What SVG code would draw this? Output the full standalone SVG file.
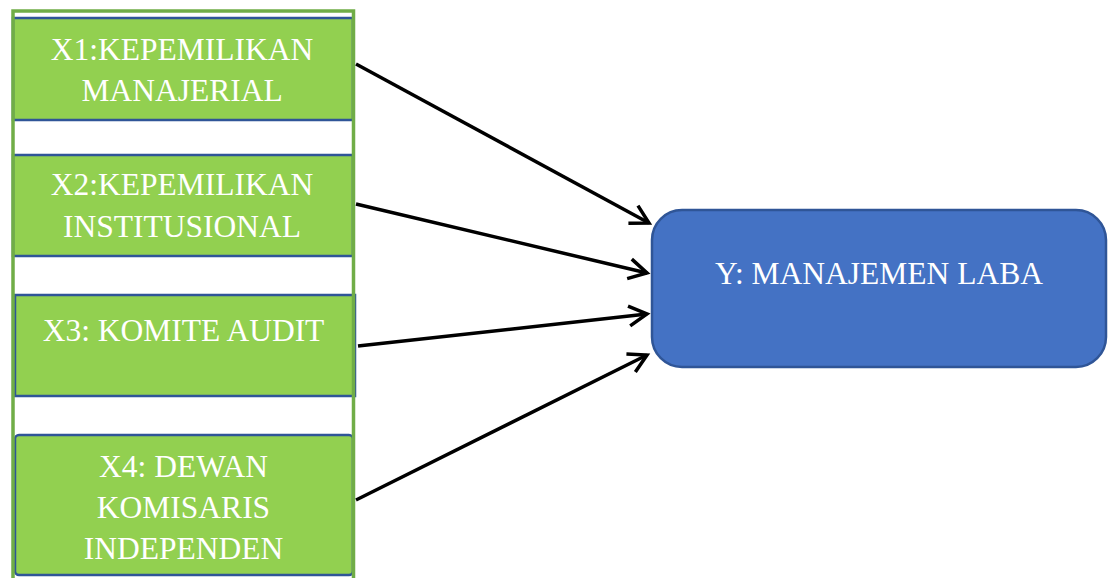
<svg xmlns="http://www.w3.org/2000/svg" width="1111" height="578" viewBox="0 0 1111 578">
<style>
.xb{fill:#92D050;stroke:#2F5597;stroke-width:2.5}
.frame{fill:none;stroke:#70AD47;stroke-width:3.5}
.t{font-family:"Liberation Serif","Times New Roman",serif;font-size:31.5px;fill:#FFFFFF;text-anchor:middle}
.yb{fill:#4472C4;stroke:#2F5597;stroke-width:2.5}
.c{stroke:#000;stroke-width:3.5;fill:none;marker-end:url(#ah)}
</style>
<defs>
<marker id="ah" markerUnits="userSpaceOnUse" viewBox="-22 -13 26 26" refX="0" refY="0" markerWidth="26" markerHeight="26" orient="auto">
<path d="M-18,-10 L0,0 L-18,10" fill="none" stroke="#000" stroke-width="3.5" stroke-linejoin="miter" stroke-linecap="butt"/>
</marker>
</defs>
<rect width="1111" height="578" fill="#FFFFFF"/>
<g id="x1">
<rect class="xb" x="13" y="18" width="340" height="102"/>
<text class="t" x="182" y="60">X1:KEPEMILIKAN</text>
<text class="t" x="182" y="101">MANAJERIAL</text>
</g>
<g id="x2">
<rect class="xb" x="13" y="155" width="340" height="101"/>
<text class="t" x="182" y="195">X2:KEPEMILIKAN</text>
<text class="t" x="182" y="237">INSTITUSIONAL</text>
</g>
<g id="x3">
<rect class="xb" x="15" y="295" width="340" height="101"/>
<text class="t" x="183.5" y="341">X3: KOMITE AUDIT</text>
</g>
<g id="x4">
<rect class="xb" x="15" y="435" width="338" height="140" rx="4"/>
<text class="t" x="183.5" y="477">X4: DEWAN</text>
<text class="t" x="183.5" y="518">KOMISARIS</text>
<text class="t" x="183.5" y="559">INDEPENDEN</text>
</g>
<g id="frame">
<path class="frame" d="M13,580 L13,11 L353.5,11 L353.5,580"/>
</g>
<g id="y">
<rect class="yb" x="652" y="210" width="454" height="157" rx="30"/>
<text class="t" x="879" y="284">Y: MANAJEMEN LABA</text>
</g>
<g id="connectors">
<line class="c" x1="356" y1="64" x2="649" y2="223"/>
<line class="c" x1="356" y1="204" x2="647" y2="273"/>
<line class="c" x1="358" y1="346" x2="647" y2="314"/>
<line class="c" x1="356" y1="500" x2="647" y2="355"/>
</g>
</svg>
